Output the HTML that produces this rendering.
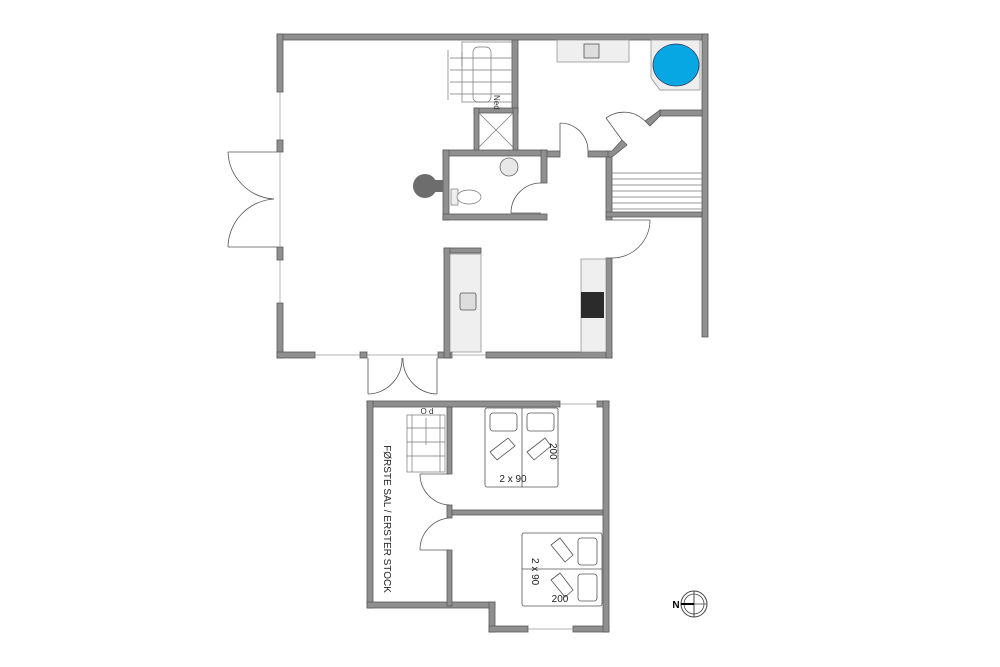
<!DOCTYPE html>
<html><head><meta charset="utf-8"><style>
html,body{margin:0;padding:0;background:#fff}
svg{display:block}
text{font-family:"Liberation Sans",sans-serif}
</style></head><body>
<svg width="1000" height="667" viewBox="0 0 1000 667" xmlns="http://www.w3.org/2000/svg">
<g fill="#8f8f8f" stroke="#5a5a5a" stroke-width="0.8">
<rect x="277" y="34" width="431" height="6"/>
<rect x="277" y="34" width="6" height="58"/>
<rect x="277" y="140" width="6" height="12"/>
<rect x="277" y="247" width="6" height="13"/>
<rect x="277" y="303" width="6" height="55"/>
<rect x="277" y="352" width="38" height="6"/>
<rect x="360" y="352" width="7" height="6"/>
<rect x="438" y="352" width="14" height="6"/>
<rect x="486" y="352" width="126" height="6"/>
<rect x="702" y="34" width="6" height="303"/>
<rect x="606" y="152" width="6" height="68"/>
<rect x="606" y="258" width="6" height="100"/>
<rect x="606" y="212" width="96" height="5"/>
<rect x="660" y="110" width="42" height="6"/>
<polygon points="660,110 660,116 650,126 645,121"/>
<polygon points="622,140 627,145 612,157 606,157 606,151 612,151"/>
<rect x="588" y="151" width="20" height="6"/>
<rect x="545" y="151" width="15" height="6"/>
<rect x="512" y="40" width="6" height="72"/>
<rect x="474" y="108" width="44" height="5"/>
<rect x="474" y="108" width="5" height="44"/>
<rect x="513" y="108" width="5" height="44"/>
<rect x="443" y="150" width="104" height="6"/>
<rect x="443" y="150" width="6" height="70"/>
<rect x="443" y="214" width="104" height="6"/>
<rect x="541" y="150" width="6" height="33"/>
<rect x="444" y="248" width="37" height="5"/>
<rect x="444" y="248" width="6" height="110"/>
<rect x="367" y="401" width="193" height="6"/>
<rect x="597" y="401" width="12" height="6"/>
<rect x="367" y="401" width="6" height="207"/>
<rect x="367" y="602" width="128" height="6"/>
<rect x="489" y="602" width="6" height="30"/>
<rect x="489" y="626" width="39" height="6"/>
<rect x="573" y="626" width="36" height="6"/>
<rect x="603" y="401" width="6" height="231"/>
<rect x="447" y="407" width="5" height="67"/>
<rect x="447" y="505" width="5" height="13"/>
<rect x="447" y="550" width="5" height="56"/>
<rect x="452" y="510" width="151" height="5"/>
</g>
<g stroke="#999" stroke-width="0.7" fill="none">
<line x1="280" y1="92" x2="280" y2="140"/><line x1="280" y1="260" x2="280" y2="303"/>
<line x1="315" y1="355" x2="360" y2="355"/><line x1="452" y1="355" x2="486" y2="355"/>
<line x1="560" y1="404" x2="597" y2="404"/><line x1="528" y1="629" x2="573" y2="629"/>
<line x1="280" y1="152" x2="280" y2="247"/><line x1="367" y1="355" x2="438" y2="355"/>
</g>
<g stroke="#555" stroke-width="0.8" fill="none">
<line x1="277" y1="152" x2="228" y2="152"/><path d="M228,152 A49,49 0 0 0 274,199"/>
<line x1="277" y1="247" x2="228" y2="247"/><path d="M228,247 A49,49 0 0 1 274,199"/>
<line x1="368" y1="358" x2="368" y2="394"/><path d="M368,394 A35,35 0 0 0 402,358"/>
<line x1="437" y1="358" x2="437" y2="394"/><path d="M437,394 A35,35 0 0 1 403,358"/>
<line x1="560" y1="151" x2="560" y2="123"/><path d="M560,123 A28,28 0 0 1 588,151"/>
<line x1="541" y1="213" x2="511" y2="213"/><path d="M511,213 A30,30 0 0 1 541,183"/>
<line x1="612" y1="220" x2="650" y2="220"/><path d="M650,220 A38,38 0 0 1 612,258"/>
<line x1="622" y1="140" x2="606" y2="118"/><path d="M606,118 A30,30 0 0 1 645,121"/>
<line x1="420" y1="474" x2="447" y2="474"/><path d="M420,474 A31,31 0 0 0 449,505"/>
<line x1="420" y1="550" x2="447" y2="550"/><path d="M420,550 A32,32 0 0 1 449,518"/>
</g>
<g stroke="#777" stroke-width="0.7" fill="none">
<rect x="462" y="42" width="50" height="60"/>
<line x1="448" y1="50" x2="448" y2="100"/>
<rect x="473" y="47" width="18" height="55" rx="5"/>
<line x1="450" y1="58" x2="512" y2="58"/><line x1="450" y1="70" x2="512" y2="70"/>
<line x1="450" y1="82" x2="512" y2="82"/><line x1="450" y1="94" x2="512" y2="94"/>
<line x1="462" y1="52" x2="462" y2="66"/>
<line x1="612" y1="173" x2="702" y2="173"/><line x1="612" y1="179" x2="702" y2="179"/>
<line x1="612" y1="185" x2="702" y2="185"/><line x1="612" y1="191" x2="702" y2="191"/>
<line x1="612" y1="197" x2="702" y2="197"/><line x1="612" y1="203" x2="702" y2="203"/>
<line x1="612" y1="209" x2="702" y2="209"/>
<line x1="479" y1="113" x2="513" y2="147"/><line x1="513" y1="113" x2="479" y2="147"/>
<rect x="407" y="415" width="38" height="57"/>
<line x1="412" y1="415" x2="412" y2="472"/><line x1="440" y1="415" x2="440" y2="472"/>
<line x1="407" y1="428" x2="445" y2="428"/><line x1="407" y1="442" x2="445" y2="442"/>
<line x1="407" y1="456" x2="445" y2="456"/>
<line x1="426" y1="418" x2="426" y2="445"/>
</g>
<text x="427" y="414" font-size="8" fill="#333" text-anchor="middle">O d</text>
<text x="0" y="0" font-size="8" fill="#333" transform="translate(494,95) rotate(90)">Ned</text>
<rect x="557" y="40" width="72" height="22" fill="#efefef" stroke="#888" stroke-width="0.7"/>
<rect x="584" y="44" width="15" height="14" fill="#ddd" stroke="#555" stroke-width="0.8"/>
<polygon points="651,40 700,40 700,90 660,90 651,78" fill="#eee" stroke="#888" stroke-width="0.7"/>
<ellipse cx="676" cy="65" rx="23" ry="21" fill="#06a7e2" stroke="#335" stroke-width="0.7"/>
<rect x="450" y="254" width="31" height="98" fill="#efefef" stroke="#888" stroke-width="0.7"/>
<rect x="460" y="293" width="16" height="17" rx="2" fill="#ddd" stroke="#555" stroke-width="0.8"/>
<rect x="581" y="259" width="25" height="93" fill="#efefef" stroke="#888" stroke-width="0.7"/>
<rect x="581" y="292" width="23" height="26" fill="#2b2b2b"/>
<circle cx="425" cy="186" r="12" fill="#6d6d6d"/>
<rect x="429" y="180" width="14" height="12" fill="#6d6d6d"/>
<circle cx="509" cy="167" r="9" fill="#e8e8e8" stroke="#666" stroke-width="0.8"/>
<rect x="451" y="189" width="7" height="16" fill="#eee" stroke="#777" stroke-width="0.7"/>
<ellipse cx="469" cy="197" rx="12" ry="7" fill="#fff" stroke="#777" stroke-width="0.7"/>
<g fill="none" stroke="#555" stroke-width="0.8">
<rect x="485" y="408" width="73" height="79" rx="2"/>
<line x1="522" y1="408" x2="522" y2="487"/>
<rect x="490" y="413" width="27" height="18" rx="3"/><rect x="527" y="413" width="27" height="18" rx="3"/>
<polygon points="490,452 508,438 515,446 497,460"/><polygon points="527,452 545,438 551,446 534,460"/>
<rect x="522" y="533" width="80" height="73" rx="2"/>
<line x1="522" y1="569" x2="602" y2="569"/>
<rect x="578" y="538" width="19" height="27" rx="3"/><rect x="578" y="574" width="19" height="27" rx="3"/>
<polygon points="551,545 560,538 573,555 565,562"/><polygon points="551,580 560,573 573,590 565,597"/>
</g>
<text x="513" y="482" font-size="10" fill="#222" text-anchor="middle">2 x 90</text>
<text x="0" y="0" font-size="10" fill="#222" transform="translate(550,443) rotate(90)">200</text>
<text x="0" y="0" font-size="10" fill="#222" transform="translate(532,558) rotate(90)">2 x 90</text>
<text x="560" y="602" font-size="10" fill="#222" text-anchor="middle">200</text>
<text x="0" y="0" font-size="10" fill="#222" text-anchor="middle" transform="translate(384,519) rotate(90)">FØRSTE SAL / ERSTER STOCK</text>
<circle cx="694" cy="604" r="13" fill="none" stroke="#444" stroke-width="1"/>
<circle cx="694" cy="604" r="10" fill="none" stroke="#444" stroke-width="0.8"/>
<line x1="694" y1="591" x2="694" y2="617" stroke="#444"/>
<line x1="681" y1="604" x2="707" y2="604" stroke="#444" stroke-width="0.8"/>
<line x1="681" y1="604" x2="694" y2="604" stroke="#000" stroke-width="2"/>
<text x="676" y="608" font-size="10" font-weight="bold" fill="#000" text-anchor="middle">N</text>
</svg>
</body></html>
